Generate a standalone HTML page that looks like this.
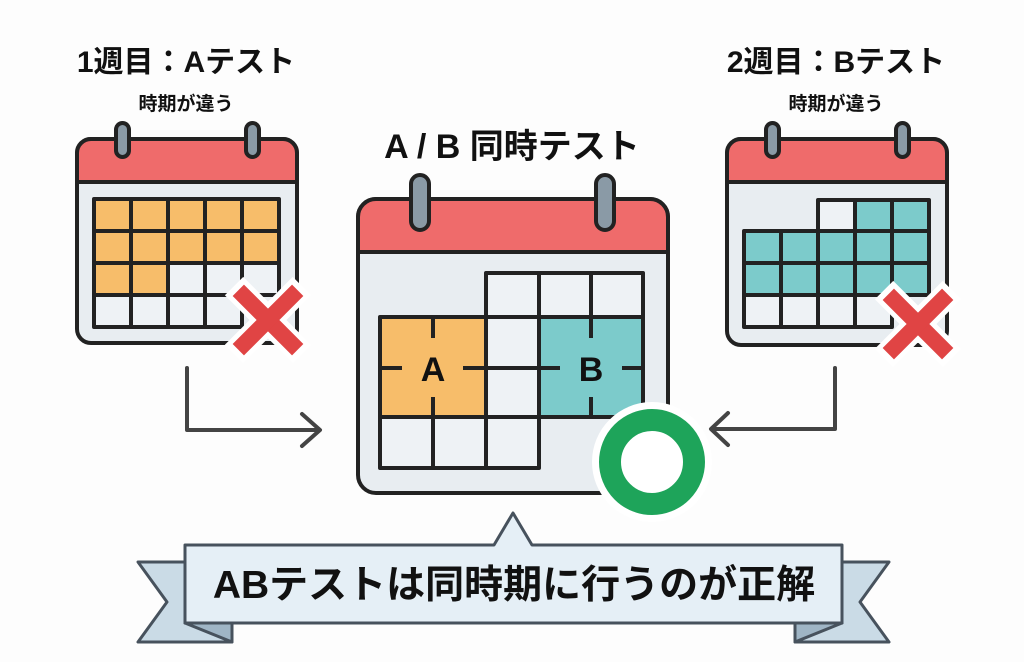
<!DOCTYPE html>
<html><head><meta charset="utf-8"><style>
html,body{margin:0;padding:0;background:#fff;}
svg{display:block}
text{font-family:"Liberation Sans","Noto Sans CJK JP",sans-serif;font-weight:bold;fill:#111}
</style></head><body>
<svg width="1024" height="662" viewBox="0 0 1024 662" xmlns="http://www.w3.org/2000/svg">
<rect width="1024" height="662" fill="#fdfdfd"/>
<text x="186" y="72" font-size="30" text-anchor="middle">1週目：Aテスト</text>
<text x="186" y="110" font-size="19" text-anchor="middle">時期が違う</text>
<text x="836" y="72" font-size="30" text-anchor="middle">2週目：Bテスト</text>
<text x="836" y="110" font-size="19" text-anchor="middle">時期が違う</text>
<text x="512" y="158" font-size="34" text-anchor="middle">A / B 同時テスト</text>

<g stroke="#222" stroke-width="4" stroke-linejoin="round">
<rect x="77" y="139" width="220" height="204" rx="14" fill="#e8edf1"/>
<path d="M77 182 V153 a14 14 0 0 1 14 -14 H283 a14 14 0 0 1 14 14 V182 Z" fill="#ef6b6b"/>
<rect x="116" y="123" width="13" height="34" rx="6.5" fill="#8a9aa6"/>
<rect x="246" y="123" width="13" height="34" rx="6.5" fill="#8a9aa6"/>
<g fill="#f7bd6a">
<rect x="94" y="199" width="37" height="32"/><rect x="131" y="199" width="37" height="32"/><rect x="168" y="199" width="37" height="32"/><rect x="205" y="199" width="37" height="32"/><rect x="242" y="199" width="37" height="32"/>
<rect x="94" y="231" width="37" height="32"/><rect x="131" y="231" width="37" height="32"/><rect x="168" y="231" width="37" height="32"/><rect x="205" y="231" width="37" height="32"/><rect x="242" y="231" width="37" height="32"/>
<rect x="94" y="263" width="37" height="32"/><rect x="131" y="263" width="37" height="32"/>
</g>
<g fill="#eef2f5">
<rect x="168" y="263" width="37" height="32"/><rect x="205" y="263" width="37" height="32"/><rect x="242" y="263" width="37" height="32"/>
<rect x="94" y="295" width="37" height="32"/><rect x="131" y="295" width="37" height="32"/><rect x="168" y="295" width="37" height="32"/><rect x="205" y="295" width="37" height="32"/>
</g>

<rect x="727" y="139" width="220" height="206" rx="14" fill="#e8edf1"/>
<path d="M727 182 V153 a14 14 0 0 1 14 -14 H933 a14 14 0 0 1 14 14 V182 Z" fill="#ef6b6b"/>
<rect x="766" y="123" width="13" height="34" rx="6.5" fill="#8a9aa6"/>
<rect x="896" y="123" width="13" height="34" rx="6.5" fill="#8a9aa6"/>
<rect x="818" y="200" width="37" height="31" fill="#eef2f5"/>
<g fill="#7ccbcb">
<rect x="855" y="200" width="37" height="31"/><rect x="892" y="200" width="37" height="31"/>
<rect x="744" y="231" width="37" height="32"/><rect x="781" y="231" width="37" height="32"/><rect x="818" y="231" width="37" height="32"/><rect x="855" y="231" width="37" height="32"/><rect x="892" y="231" width="37" height="32"/>
<rect x="744" y="263" width="37" height="32"/><rect x="781" y="263" width="37" height="32"/><rect x="818" y="263" width="37" height="32"/><rect x="855" y="263" width="37" height="32"/><rect x="892" y="263" width="37" height="32"/>
</g>
<g fill="#eef2f5">
<rect x="744" y="295" width="37" height="32"/><rect x="781" y="295" width="37" height="32"/><rect x="818" y="295" width="37" height="32"/><rect x="855" y="295" width="37" height="32"/>
</g>

<rect x="358" y="199" width="310" height="294" rx="18" fill="#e8edf1"/>
<path d="M358 252 V217 a18 18 0 0 1 18 -18 H650 a18 18 0 0 1 18 18 V252 Z" fill="#ef6b6b"/>
<rect x="411" y="175" width="18" height="55" rx="9" fill="#8a9aa6"/>
<rect x="596" y="175" width="18" height="55" rx="9" fill="#8a9aa6"/>
<g fill="#eef2f5">
<rect x="486" y="273" width="53" height="44"/><rect x="539" y="273" width="52" height="44"/><rect x="591" y="273" width="52" height="44"/>
<rect x="486" y="317" width="53" height="51"/><rect x="486" y="368" width="53" height="49"/>
<rect x="380" y="417" width="53" height="51"/><rect x="433" y="417" width="53" height="51"/><rect x="486" y="417" width="53" height="51"/>
</g>
<rect x="380" y="317" width="106" height="100" fill="#f7bd6a"/>
<rect x="539" y="317" width="104" height="100" fill="#7ccbcb"/>
<path d="M433 317 V338 M433 397 V417 M380 368 H402 M463 368 H486 M591 317 V338 M591 397 V417 M539 368 H560 M622 368 H643" fill="none"/>
</g>
<text x="433" y="381" font-size="34" text-anchor="middle">A</text>
<text x="591" y="381" font-size="34" text-anchor="middle">B</text>

<g>
<g transform="translate(268,320) rotate(45)">
<rect x="-48" y="-13" width="96" height="26" fill="#fff"/><rect x="-13" y="-48" width="26" height="96" fill="#fff"/>
<rect x="-42" y="-8" width="84" height="16" fill="#e04444"/><rect x="-8" y="-42" width="16" height="84" fill="#e04444"/>
</g>
<g transform="translate(918,324) rotate(45)">
<rect x="-48" y="-13" width="96" height="26" fill="#fff"/><rect x="-13" y="-48" width="26" height="96" fill="#fff"/>
<rect x="-42" y="-8" width="84" height="16" fill="#e04444"/><rect x="-8" y="-42" width="16" height="84" fill="#e04444"/>
</g>
</g>
<circle cx="652" cy="462" r="60" fill="#fff"/>
<circle cx="652" cy="462" r="42" fill="none" stroke="#1ea45a" stroke-width="22"/>

<g fill="none" stroke="#444" stroke-width="4" stroke-linecap="round" stroke-linejoin="round">
<path d="M187 368 V430 H318"/><path d="M302 414 L320 430 L302 446"/>
<path d="M835 368 V429 H712"/><path d="M728 413 L711 429 L728 445"/>
</g>

<g stroke="#47525d" stroke-width="3" stroke-linejoin="round">
<path d="M185 562 H138 L167 602 L138 642 H232 V623 H185 Z" fill="#cadbe6"/>
<path d="M185 623 L232 642 V623 Z" fill="#9fb5c5"/>
<path d="M842 562 H889 L860 602 L889 642 H795 V623 H842 Z" fill="#cadbe6"/>
<path d="M842 623 L795 642 V623 Z" fill="#9fb5c5"/>
<path d="M185 545 H494 L513 513 L532 545 H842 V623 H185 Z" fill="#e5eff6"/>
</g>
<text x="514" y="598" font-size="39" text-anchor="middle">ABテストは同時期に行うのが正解</text>
</svg>
</body></html>
